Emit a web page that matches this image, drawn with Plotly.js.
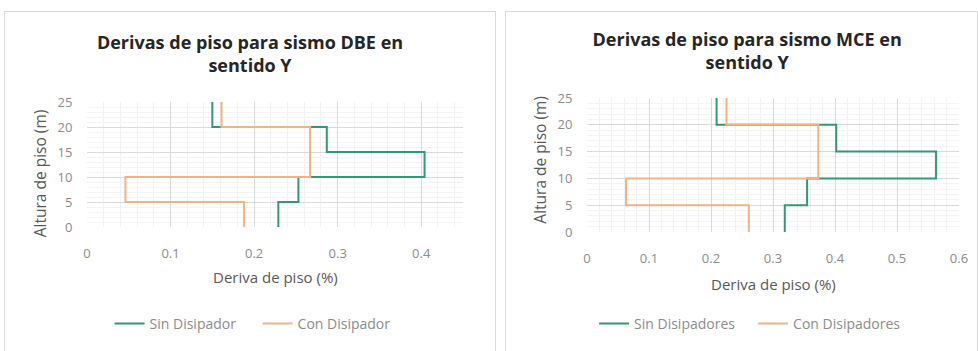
<!DOCTYPE html>
<html>
<head>
<meta charset="utf-8">
<script src="https://cdn.plot.ly/plotly-3.0.1.min.js"></script>
<style>
  html, body { margin: 0; padding: 0; background: #ffffff; width: 978px; height: 351px; overflow: hidden; }
  .panel { position: absolute; border: 1px solid #d9d9d9; box-sizing: border-box; background: #fff; }
</style>
</head>
<body>
<div id="p1" class="panel" style="left:4px; top:11px; width:492px; height:342px;"><div id="c1"></div></div>
<div id="p2" class="panel" style="left:505px; top:11px; width:473px; height:342px;"><div id="c2"></div></div>
<script>
// Story levels (m)
const alturas = [0, 5, 10, 15, 20, 25];
// Drifts per story (%), bottom story first
const dbeSin = [0.229, 0.253, 0.404, 0.287, 0.150];
const dbeCon = [0.188, 0.046, 0.267, 0.267, 0.161];
const mceSin = [0.319, 0.355, 0.563, 0.402, 0.209];
const mceCon = [0.261, 0.063, 0.373, 0.373, 0.225];
const xTicksDBE = [0, 0.1, 0.2, 0.3, 0.4];
const xTicksMCE = [0, 0.1, 0.2, 0.3, 0.4, 0.5, 0.6];
const yTicks = [0, 5, 10, 15, 20, 25];

const GREEN = '#329a72';
const ORANGE = '#f4b183';
const FONT = 'Open Sans, Noto Sans, sans-serif';

function steps(vals, h) {
  const x = [], y = [];
  for (let i = 0; i < vals.length; i++) {
    x.push(vals[i]); y.push(h[i]);
    x.push(vals[i]); y.push(h[i + 1]);
  }
  return {x, y};
}

function makeChart(div, cfg) {
  const s1 = steps(cfg.sin, alturas);
  const s2 = steps(cfg.con, alturas);
  const traces = [
    {x: s1.x, y: s1.y, mode: 'lines', name: cfg.names[0], line: {color: GREEN, width: 2}, type: 'scatter'},
    {x: s2.x, y: s2.y, mode: 'lines', name: cfg.names[1], line: {color: ORANGE, width: 2}, type: 'scatter'}
  ];
  const layout = {
    width: cfg.w, height: cfg.h,
    margin: cfg.margin,
    paper_bgcolor: '#ffffff', plot_bgcolor: '#ffffff',
    font: {family: FONT, color: '#8c8c8c', size: 12},
    showlegend: true,
    legend: {orientation: 'h', x: cfg.legX, xanchor: 'left', y: cfg.legY, yanchor: 'middle',
             entrywidth: cfg.entryW, entrywidthmode: 'pixels',
             font: {size: 14, color: '#8c8c8c', family: FONT}, itemwidth: 30, traceorder: 'normal'},
    title: {text: cfg.title, x: cfg.titleX, xanchor: 'center', xref: 'container', y: cfg.titleY, yref: 'container', yanchor: 'middle',
            font: {family: FONT, size: 18, color: '#262626', weight: 'bold'}},
    xaxis: {range: cfg.xrange, tickvals: cfg.xticks, ticktext: cfg.xticks.map(String),
            showgrid: true, gridcolor: '#d9d9d9', gridwidth: 1, zeroline: false, showline: false,
            ticks: 'outside', ticklen: 14, tickcolor: 'rgba(0,0,0,0)',
            minor: {dtick: 0.02, tick0: 0, showgrid: true, gridcolor: '#f2f2f2', gridwidth: 1},
            tickfont: {size: 13, color: '#8c8c8c'}, fixedrange: true},
    yaxis: {range: [0, 25], tickvals: yTicks, showgrid: true, gridcolor: '#d9d9d9', gridwidth: 1,
            zeroline: false, showline: false, ticks: 'outside', ticklen: 11, tickcolor: 'rgba(0,0,0,0)',
            minor: {dtick: 1, tick0: 0, showgrid: true, gridcolor: '#f4f4f4', gridwidth: 1},
            tickfont: {size: 13, color: '#8c8c8c'}, fixedrange: true},
    annotations: [
      {text: 'Deriva de piso (%)', xref: 'paper', yref: 'paper', x: 0.5, y: 0, xanchor: 'center', yanchor: 'middle',
       yshift: -cfg.xTitleOff, showarrow: false, font: {size: 15, color: '#595959', family: FONT}},
      {text: 'Altura de piso (m)', xref: 'paper', yref: 'paper', x: 0, y: cfg.yTitleY, xanchor: 'center', yanchor: 'middle',
       xshift: -cfg.yTitleOff, textangle: -90, showarrow: false, font: {size: 15.5, color: '#595959', family: FONT}}
    ]
  };
  Plotly.newPlot(div, traces, layout, {staticPlot: true, displayModeBar: false});
}

makeChart('c1', {
  sin: dbeSin, con: dbeCon, names: ['Sin Disipador', 'Con Disipador'],
  title: 'Derivas de piso para sismo DBE en<br>sentido Y',
  w: 490, h: 340, margin: {l: 82, r: 32, t: 90, b: 122, pad: 0},
  xrange: [0, 0.45], xticks: xTicksDBE,
  titleX: 0.5, titleY: 1 - 37 / 340, legX: 0.06, legY: -0.775, entryW: 103,
  xTitleOff: 50, yTitleOff: 47, yTitleY: 0.43
});
makeChart('c2', {
  sin: mceSin, con: mceCon, names: ['Sin Disipadores', 'Con Disipadores'],
  title: 'Derivas de piso para sismo MCE en<br>sentido Y',
  w: 471, h: 340, margin: {l: 80.5, r: 18, t: 86, b: 115, pad: 0},
  xrange: [0, 0.6], xticks: xTicksMCE,
  titleX: 0.512, titleY: 1 - 34 / 340, legX: 0.019, legY: -0.685, entryW: 114,
  xTitleOff: 52, yTitleOff: 47, yTitleY: 0.54
});
</script>
</body>
</html>
